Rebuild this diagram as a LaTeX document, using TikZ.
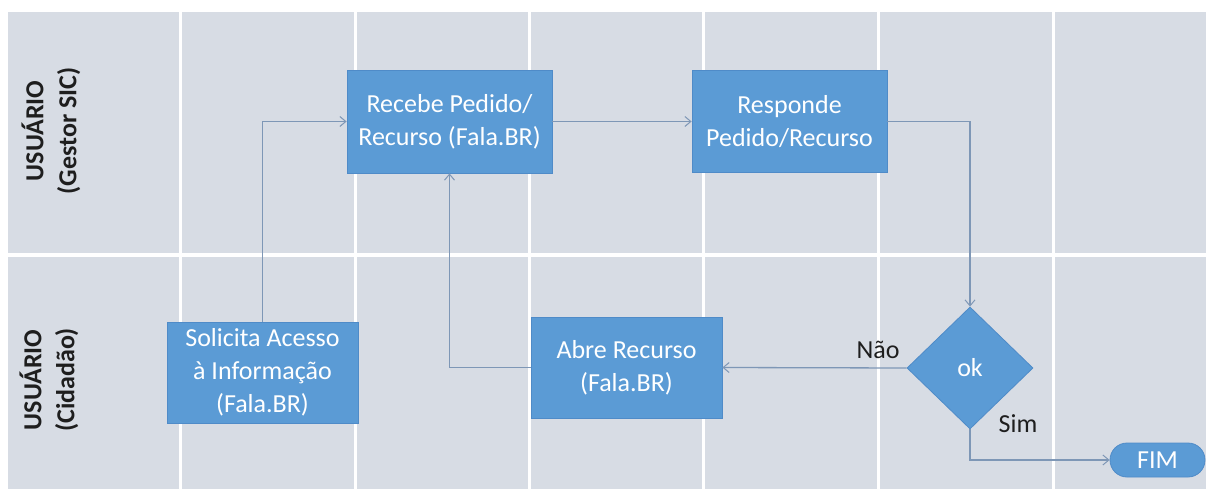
\documentclass[tikz,border=0pt]{standalone}
\usepackage{fontspec}
\setmainfont{Carlito}
\usetikzlibrary{arrows.meta,shapes.geometric,shapes.misc}
\definecolor{panel}{HTML}{D7DCE4}
\definecolor{boxblue}{HTML}{5B9BD5}
\definecolor{boxedge}{HTML}{4F8BC8}
\definecolor{conncol}{HTML}{7E97B6}
\definecolor{labtext}{HTML}{1E1E1E}
\newcommand{\bigfont}{\fontsize{26}{33}\selectfont}
\tikzset{
  procbox/.style={rectangle, fill=boxblue, draw=boxedge, line width=0.8pt, text=white, align=center, inner sep=2pt},
  decbox/.style={diamond, fill=boxblue, draw=boxedge, line width=0.8pt, text=white, inner sep=0pt},
  endbox/.style={rounded rectangle, fill=boxblue, draw=boxedge, line width=0.8pt, text=white, inner sep=0pt},
  conn/.style={draw=conncol, line width=1.3pt, -{Straight Barb[length=6pt,width=10pt,line width=1pt]}},
  lanelabel/.style={rotate=90, font=\bigfont\bfseries, text=labtext, align=center},
  edgelabel/.style={text=labtext},
  gridline/.style={draw=white, line width=3pt},
}
\begin{document}
\begin{tikzpicture}[x=1pt,y=-1pt,font=\bigfont]
\useasboundingbox (0,0) rectangle (1206,489);
\fill[white] (0,0) rectangle (1206,489);
\fill[panel] (8,12) rectangle (1206,489);
\foreach \xx in {180,355,529,703,878,1053} {
  \draw[gridline] (\xx,12) -- (\xx,489);
}
\draw[draw=white, line width=4pt] (8,255) -- (1206,255);

\node[lanelabel] (lane1) at (51,131) {USUÁRIO\\(Gestor SIC)};
\node[lanelabel] (lane2) at (49,380) {USUÁRIO\\(Cidadão)};

\node[procbox, minimum width=205pt, minimum height=103pt] (recebe) at (449.5,121.5) {Recebe Pedido/\\Recurso (Fala.BR)};
\node[procbox, minimum width=195pt, minimum height=102pt] (responde) at (789.5,121.5) {Responde\\Pedido/Recurso};
\node[procbox, minimum width=191pt, minimum height=101pt] (solicita) at (262.5,372.5) {Solicita Acesso\\à Informação\\(Fala.BR)};
\node[procbox, minimum width=191pt, minimum height=101pt] (abre) at (626.5,367.5) {Abre Recurso\\(Fala.BR)};
\node[decbox, minimum width=126pt, minimum height=122pt] (ok) at (970,368) {ok};
\node[endbox, minimum width=95pt, minimum height=34pt] (fim) at (1157.5,460) {FIM};

\draw[conn] (solicita.north) |- (recebe.west);
\draw[conn] (recebe.east) -- (responde.west);
\draw[conn] (responde.east) -| (ok.north);
\draw[conn] (ok.west) -- (abre.east);
\draw[conn] (abre.west) -| (recebe.south);
\draw[conn] (ok.south) |- (fim.west);

\node[edgelabel] (nao) at (878,350) {Não};
\node[edgelabel] (sim) at (1018,424) {Sim};
\end{tikzpicture}
\end{document}
